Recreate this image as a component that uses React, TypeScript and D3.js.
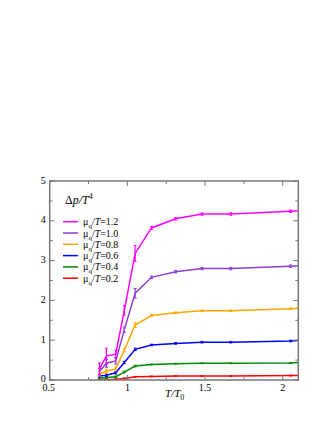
import React, { useEffect, useRef } from "react";
import * as d3 from "d3";

// T/T0 positions of the lattice points
const tx = [0.82, 0.865, 0.925, 0.98, 1.05, 1.155, 1.31, 1.48, 1.665, 2.05, 2.1];

// Delta p / T^4 for each mu_q/T
const mu12 = [0.28, 0.6, 0.65, 1.75, 3.18, 3.82, 4.05, 4.17, 4.17, 4.24, 4.25];
const mu10 = [0.21, 0.42, 0.48, 1.26, 2.18, 2.58, 2.72, 2.8, 2.8, 2.86, 2.87];
const mu08 = [0.15, 0.22, 0.28, 0.75, 1.38, 1.62, 1.69, 1.74, 1.74, 1.79, 1.8];
const mu06 = [0.1, 0.12, 0.18, 0.44, 0.77, 0.88, 0.92, 0.95, 0.95, 0.98, 0.99];
const mu04 = [0.05, 0.06, 0.08, 0.2, 0.35, 0.39, 0.41, 0.42, 0.42, 0.43, 0.44];
const mu02 = [0.01, 0.015, 0.02, 0.04, 0.08, 0.09, 0.1, 0.1, 0.1, 0.11, 0.11];

// error bar half widths
const err12 = [0.15, 0.2, 0.1, 0.12, 0.2, 0.04, 0.03, 0.03, 0.03, 0.03, 0];
const err10 = [0.08, 0.1, 0.08, 0.07, 0.12, 0.03, 0.03, 0.03, 0.03, 0.03, 0];
const err08 = [0.05, 0.05, 0.05, 0.04, 0.06, 0.02, 0.02, 0.02, 0.02, 0.02, 0];
const err06 = [0.03, 0.03, 0.03, 0.03, 0.03, 0.02, 0.02, 0.02, 0.02, 0.02, 0];
const err04 = [0.02, 0.02, 0.02, 0.02, 0.02, 0.01, 0.01, 0.01, 0.01, 0.01, 0];
const err02 = [0.01, 0.01, 0.01, 0.01, 0.01, 0.01, 0.01, 0.01, 0.01, 0.01, 0];

const muLabels = ["1.2", "1.0", "0.8", "0.6", "0.4", "0.2"];
const colors = ["#ff00ff", "#8a3fd0", "#ffa500", "#0000ff", "#008a00", "#ff0000"];

const xTicks = [0.5, 1, 1.5, 2];
const xTickLabels = ["0.5", "1", "1.5", "2"];
const yTicks = [0, 1, 2, 3, 4, 5];

const App = () => {
  const svgRef = useRef<SVGSVGElement>(null);

  useEffect(() => {
    const svg = d3.select(svgRef.current);
    svg.selectAll("*").remove();

    const left = 49.7, right = 298.3, top = 181, bottom = 380;
    const x = d3.scaleLinear().domain([0.5, 2.1]).range([left, right]);
    const y = d3.scaleLinear().domain([0, 5]).range([bottom, top]);
    const font = "'Liberation Serif', 'Times New Roman', serif";

    const series = [mu12, mu10, mu08, mu06, mu04, mu02];
    const errs = [err12, err10, err08, err06, err04, err02];

    svg.append("clipPath").attr("id", "clip")
      .append("rect")
      .attr("x", left).attr("y", top)
      .attr("width", right - left).attr("height", bottom - top);

    const plot = svg.append("g").attr("clip-path", "url(#clip)");
    const line = d3.line<number>()
      .x((d, i) => x(tx[i]))
      .y((d) => y(d));

    // draw from lowest to highest so magenta sits on top
    for (let s = series.length - 1; s >= 0; s--) {
      const vals = series[s];
      const col = colors[s];
      plot.append("path")
        .attr("d", line(vals))
        .attr("fill", "none")
        .attr("stroke", col)
        .attr("stroke-width", 1.5);
      vals.forEach((v, i) => {
        const e = errs[s][i];
        if (e <= 0) return;
        const cx = x(tx[i]);
        plot.append("line")
          .attr("x1", cx).attr("x2", cx)
          .attr("y1", y(v - e)).attr("y2", y(v + e))
          .attr("stroke", col).attr("stroke-width", 1.2);
        [v - e, v + e].forEach((yy) => {
          plot.append("line")
            .attr("x1", cx - 1.5).attr("x2", cx + 1.5)
            .attr("y1", y(yy)).attr("y2", y(yy))
            .attr("stroke", col).attr("stroke-width", 1);
        });
      });
    }

    // frame
    const frameCol = "#777";
    svg.append("rect")
      .attr("x", left).attr("y", top)
      .attr("width", right - left).attr("height", bottom - top)
      .attr("fill", "none").attr("stroke", frameCol).attr("stroke-width", 1.5);

    // ticks on all four sides, pointing inward
    const tk = svg.append("g").attr("stroke", frameCol).attr("stroke-width", 1);
    d3.range(0.5, 2.11, 0.25).forEach((t) => {
      const len = Math.abs(t * 2 - Math.round(t * 2)) < 1e-6 ? 5 : 3;
      const px = x(t);
      tk.append("line").attr("x1", px).attr("x2", px).attr("y1", bottom).attr("y2", bottom - len);
      tk.append("line").attr("x1", px).attr("x2", px).attr("y1", top).attr("y2", top + len);
    });
    d3.range(0, 5.01, 0.5).forEach((t) => {
      const len = Math.abs(t - Math.round(t)) < 1e-6 ? 5 : 3;
      const py = y(t);
      tk.append("line").attr("x1", left).attr("x2", left + len).attr("y1", py).attr("y2", py);
      tk.append("line").attr("x1", right).attr("x2", right - len).attr("y1", py).attr("y2", py);
    });

    // tick labels
    xTicks.forEach((t, i) => {
      svg.append("text")
        .attr("x", x(t) - (i === 0 ? 1 : 0)).attr("y", bottom + 10.5)
        .attr("text-anchor", "middle")
        .attr("font-family", font).attr("font-size", 10)
        .text(xTickLabels[i]);
    });
    yTicks.forEach((t) => {
      svg.append("text")
        .attr("x", left - 4).attr("y", y(t) + (t === 0 ? 1.5 : 2.5))
        .attr("text-anchor", "end")
        .attr("font-family", font).attr("font-size", 10)
        .text(String(t));
    });

    // axis title T/T0
    const xt = svg.append("text")
      .attr("x", 165).attr("y", 397)
      .attr("font-family", font).attr("font-size", 11);
    xt.append("tspan").attr("font-style", "italic").text("T/T");
    xt.append("tspan").attr("font-size", 8).attr("dy", 3).text("0");

    // legend title
    const lt = svg.append("text")
      .attr("x", 65).attr("y", 204)
      .attr("font-family", font).attr("font-size", 12);
    lt.append("tspan").text("Δ");
    lt.append("tspan").attr("font-style", "italic").text("p/T");
    lt.append("tspan").attr("font-size", 8).attr("dy", -5).text("4");

    // legend entries
    muLabels.forEach((lab, i) => {
      const ly = 221.7 + i * 11.3;
      svg.append("line")
        .attr("x1", 63).attr("x2", 78)
        .attr("y1", ly).attr("y2", ly)
        .attr("stroke", colors[i]).attr("stroke-width", 1.5);
      const t = svg.append("text")
        .attr("x", 83).attr("y", ly + 3.5)
        .attr("font-family", font).attr("font-size", 10);
      t.append("tspan").text("μ");
      t.append("tspan").attr("font-size", 7).attr("dy", 3).text("q");
      t.append("tspan").attr("dy", -3).text("/");
      t.append("tspan").attr("font-style", "italic").text("T");
      t.append("tspan").text("=" + lab);
    });
  }, []);

  return (
    <svg
      ref={svgRef}
      width={332}
      height={430}
      style={{ position: "absolute", left: 0, top: 0, background: "#fff" }}
    />
  );
};

export default App;
